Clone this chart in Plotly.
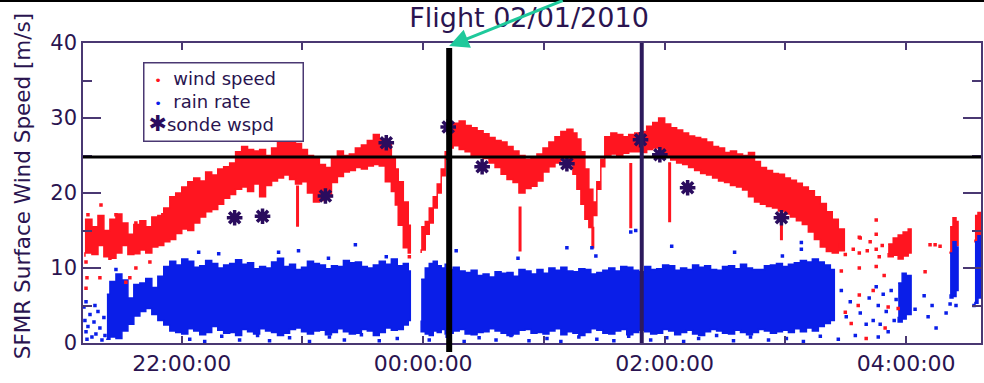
import plotly.graph_objects as go

# ---------------------------------------------------------------------------
# SFMR wind speed (m/s): envelope of the dense 1 Hz record, per flight stretch
# time in hours after 00:00 on 02/01 (values > 24 are the early hours of 02/02)
# ---------------------------------------------------------------------------
WIND_SEG = [0] * 57 + [1] * 77 + [2] * 6 + [3] * 4 + [4] * 3
WIND_T = [
    21.198, 21.256, 21.306, 21.355, 21.405, 21.455, 21.504, 21.554, 21.603, 21.653,
    21.702, 21.752, 21.802, 21.851, 21.901, 21.950, 22.000, 22.050, 22.099, 22.149,
    22.198, 22.248, 22.298, 22.347, 22.397, 22.446, 22.496, 22.545, 22.595, 22.645,
    22.694, 22.744, 22.793, 22.843, 22.893, 22.942, 22.992, 23.041, 23.091, 23.140,
    23.190, 23.240, 23.289, 23.339, 23.388, 23.438, 23.488, 23.537, 23.587, 23.636,
    23.686, 23.736, 23.769, 23.793, 23.835, 23.876, 23.893,
    23.983, 24.017, 24.050, 24.083, 24.116, 24.149, 24.182, 24.215, 24.248, 24.298,
    24.347, 24.397, 24.446, 24.496, 24.545, 24.595, 24.645, 24.694, 24.744, 24.793,
    24.843, 24.893, 24.942, 24.992, 25.041, 25.091, 25.140, 25.190, 25.240, 25.273,
    25.306, 25.339, 25.372, 25.405, 25.438, 25.471, 25.504, 25.554, 25.603, 25.653,
    25.702, 25.752, 25.802, 25.851, 25.901, 25.950, 26.000, 26.050, 26.099, 26.149,
    26.198, 26.248, 26.298, 26.347, 26.397, 26.446, 26.496, 26.545, 26.595, 26.645,
    26.694, 26.744, 26.793, 26.843, 26.893, 26.942, 26.992, 27.041, 27.091, 27.140,
    27.190, 27.240, 27.289, 27.339, 27.388, 27.438, 27.488,
    27.851, 27.893, 27.934, 27.975, 28.017, 28.041,
    28.364, 28.388, 28.413, 28.430,
    28.570, 28.595, 28.628,
]
WIND_LO = [
    11.5, 12.0, 11.8, 13.0, 11.5, 11.3, 12.0, 13.0, 11.8, 11.9,
    12.4, 12.0, 12.8, 13.0, 13.5, 13.8, 14.6, 15.2, 15.0, 16.0,
    16.8, 17.5, 17.8, 18.5, 19.3, 19.8, 20.5, 20.8, 20.2, 21.2,
    19.5, 21.0, 21.6, 22.0, 22.4, 21.8, 21.2, 21.5, 20.0, 18.8,
    19.0, 19.5, 21.4, 22.2, 22.8, 23.0, 23.4, 23.2, 23.6, 23.8,
    23.6, 21.5, 20.2, 18.4, 15.7, 12.7, 12.0,
    12.0, 12.4, 14.5, 16.0, 18.0, 20.0, 22.3, 24.5, 26.0, 26.3,
    25.8, 25.5, 25.0, 24.8, 24.6, 24.0, 23.4, 22.5, 21.8, 21.4,
    20.0, 20.6, 20.9, 21.6, 22.8, 23.5, 24.0, 24.6, 24.0, 22.5,
    20.5, 18.5, 16.5, 15.4, 17.0, 20.5, 23.5, 24.8, 25.2, 25.0,
    25.3, 25.5, 25.5, 25.4, 25.8, 26.0, 25.4, 24.8, 24.4, 24.0,
    23.8, 23.4, 23.0, 22.6, 22.4, 22.0, 21.6, 21.4, 21.0, 20.8,
    20.4, 19.5, 18.8, 18.5, 18.2, 18.0, 17.6, 17.2, 16.8, 16.3,
    15.8, 14.8, 13.8, 12.8, 12.2, 12.0, 12.3,
    12.0, 11.5, 11.7, 11.2, 11.6, 12.0,
    12.2, 12.0, 12.5, 13.0,
    13.8, 13.5, 14.0,
]
WIND_HI = [
    16.5, 15.5, 17.0, 15.0, 16.5, 17.2, 16.0, 14.5, 15.8, 16.3,
    15.5, 16.8, 17.0, 18.0, 19.5, 20.0, 20.8, 21.5, 22.0, 21.6,
    22.8, 22.4, 23.2, 23.5, 24.0, 25.5, 26.2, 25.8, 25.6, 25.8,
    25.0, 26.0, 27.2, 27.6, 27.3, 26.6, 25.8, 25.0, 24.6, 23.8,
    23.4, 24.8, 25.6, 25.0, 25.2, 26.0, 26.4, 27.0, 27.8, 27.2,
    26.8, 24.7, 23.2, 21.5, 18.8, 15.7, 13.5,
    15.5, 16.2, 18.0, 19.5, 21.2, 23.2, 25.5, 28.0, 29.3, 29.6,
    29.0, 28.7, 28.3, 27.9, 27.4, 27.0, 26.8, 26.2, 25.6, 25.0,
    24.5, 24.8, 25.2, 26.0, 26.8, 27.5, 28.2, 28.5, 28.0, 27.2,
    25.5, 23.2, 20.5, 18.8, 21.5, 24.5, 27.5, 28.0, 27.8, 27.5,
    27.8, 28.0, 28.2, 28.9, 29.4, 30.0, 29.2, 28.7, 28.4, 28.0,
    27.6, 27.4, 27.2, 26.8, 26.2, 26.0, 25.4, 25.6, 25.2, 25.0,
    25.4, 24.2, 23.4, 23.0, 22.6, 22.5, 22.0, 21.7, 21.3, 20.8,
    20.3, 19.5, 18.6, 17.5, 16.5, 15.2, 14.0,
    13.2, 14.0, 14.4, 14.8, 15.2, 14.6,
    15.5, 16.7, 16.2, 15.0,
    17.0, 17.4, 17.0,
]

# Short drop-outs of the wind record (time, lowest, highest)
DROP_T = [22.959, 24.802, 25.405, 25.719, 26.041, 26.967]
DROP_LO = [15.5, 12.2, 12.6, 15.3, 16.1, 13.7]
DROP_HI = [21.0, 18.2, 15.5, 24.0, 24.1, 17.0]

# Isolated wind-speed samples
WIND_PT_T = [
    21.207, 21.215, 21.223, 21.322, 21.331, 21.405, 21.455, 21.537, 21.570, 21.620,
    21.620, 21.736, 21.207, 21.843, 23.885,
    27.455, 27.496, 27.562, 27.612, 27.612, 27.612, 27.678, 27.463, 27.612, 27.545,
    27.669, 27.620, 27.752, 27.752, 27.752, 27.752, 27.777, 27.802, 27.818, 27.826,
    27.851, 27.934, 28.157, 28.198, 28.240, 28.281, 27.496, 27.603, 27.702, 27.727,
]
WIND_PT_V = [
    10.8, 8.7, 17.1, 8.7, 18.4, 11.3, 17.1, 8.1, 8.7, 10.0,
    16.0, 10.8, 7.3, 17.1, 11.5,
    13.0, 11.8, 12.5, 14.1, 12.0, 10.0, 12.3, 9.6, 6.4, 2.6,
    0.6, 14.0, 16.4, 14.5, 12.5, 10.2, 11.5, 13.0, 9.0, 2.0,
    4.8, 4.6, 9.5, 13.1, 13.1, 12.9, 4.1, 5.0, 13.5, 7.0,
]

# ---------------------------------------------------------------------------
# SFMR rain rate: envelope of the dense record
# ---------------------------------------------------------------------------
RAIN_SEG = [0] * 53 + [1] * 73 + [2] * 4 + [3] * 4 + [4] * 3
RAIN_T = [
    21.380, 21.405, 21.455, 21.504, 21.554, 21.603, 21.653, 21.702, 21.752, 21.802,
    21.851, 21.901, 21.950, 22.000, 22.050, 22.099, 22.149, 22.198, 22.248, 22.298,
    22.347, 22.397, 22.446, 22.496, 22.545, 22.595, 22.645, 22.694, 22.744, 22.793,
    22.843, 22.893, 22.942, 22.992, 23.041, 23.091, 23.140, 23.190, 23.240, 23.289,
    23.339, 23.388, 23.438, 23.488, 23.537, 23.587, 23.636, 23.686, 23.736, 23.785,
    23.835, 23.876, 23.893,
    23.983, 24.017, 24.050, 24.083, 24.116, 24.149, 24.182, 24.215, 24.248,
    24.298, 24.347, 24.397, 24.446, 24.496, 24.545, 24.595, 24.645, 24.694, 24.744,
    24.793, 24.843, 24.893, 24.942, 24.992, 25.041, 25.091, 25.140, 25.190, 25.240,
    25.289, 25.339, 25.388, 25.438, 25.488, 25.537, 25.587, 25.636, 25.686, 25.736,
    25.785, 25.835, 25.884, 25.934, 25.983, 26.033, 26.083, 26.132, 26.182, 26.231,
    26.281, 26.331, 26.380, 26.430, 26.479, 26.529, 26.579, 26.628, 26.678, 26.727,
    26.777, 26.826, 26.876, 26.926, 26.975, 27.025, 27.074, 27.124, 27.174, 27.223,
    27.273, 27.322, 27.372, 27.405,
    27.934, 27.967, 28.000, 28.041,
    28.364, 28.388, 28.413, 28.430,
    28.570, 28.595, 28.628,
]
RAIN_LO = [
    0.6, 0.5, 0.8, 0.6, 1.6, 2.5, 3.6, 4.2, 4.6, 3.8,
    3.0, 2.4, 1.6, 1.4, 1.2, 1.9, 1.6, 1.1, 1.4, 2.2,
    1.7, 1.3, 1.4, 1.0, 1.8, 1.5, 1.2, 1.9, 1.6, 1.4,
    1.0, 1.3, 1.8, 2.0, 1.5, 1.2, 1.6, 1.7, 1.1, 1.4,
    1.9, 1.5, 1.2, 1.3, 1.8, 1.6, 1.0, 1.4, 2.0, 1.7,
    1.8, 2.4, 3.0,
    3.0, 1.5, 1.2, 1.0, 1.6, 1.4, 1.8, 1.2, 1.3,
    1.6, 1.8, 1.2, 1.1, 1.4, 1.5, 1.9, 1.6, 1.3, 1.0,
    1.2, 1.7, 1.8, 1.3, 1.4, 1.2, 1.6, 1.9, 1.1, 1.5,
    1.3, 1.0, 1.4, 1.9, 1.7, 1.3, 1.2, 1.6, 1.8, 1.1,
    1.4, 1.7, 1.5, 1.2, 1.3, 1.8, 1.6, 1.1, 1.4, 1.7,
    1.2, 1.0, 1.5, 1.8, 1.6, 1.3, 1.2, 1.7, 1.4, 1.1,
    1.4, 1.8, 1.6, 1.3, 1.5, 1.7, 1.4, 1.9, 1.5, 2.0,
    1.6, 2.2, 2.6, 3.0,
    3.5, 2.8, 3.2, 3.8,
    6.5, 6.0, 6.2, 7.0,
    5.5, 5.3, 6.0,
]
RAIN_HI = [
    6.5, 8.2, 9.2, 8.4, 6.0, 7.8, 8.0, 8.6, 7.4, 8.9,
    10.2, 10.9, 10.4, 11.2, 10.9, 10.1, 10.3, 11.0, 10.6, 10.0,
    10.4, 10.6, 11.1, 10.5, 10.7, 9.9, 10.2, 10.0, 10.8, 11.3,
    10.2, 10.5, 9.8, 10.1, 10.9, 10.6, 10.4, 9.9, 10.3, 10.2,
    11.0, 10.7, 10.8, 10.2, 10.0, 10.4, 10.9, 10.5, 11.2, 10.3,
    10.6, 9.6, 8.5,
    8.5, 10.0, 10.6, 10.9, 10.3, 10.0, 10.5, 9.8, 10.1,
    9.6, 9.4, 9.7, 9.0, 9.2, 8.8, 9.5, 9.3, 9.4, 8.9,
    9.8, 9.6, 9.2, 9.8, 9.3, 10.0, 9.7, 10.1, 9.6, 9.5,
    9.9, 9.8, 9.2, 9.4, 9.7, 10.0, 9.6, 10.2, 10.1, 9.7,
    9.5, 10.2, 9.8, 9.9, 10.4, 10.3, 9.7, 10.0, 9.8, 10.4,
    10.1, 10.3, 9.8, 9.7, 10.2, 10.3, 9.9, 10.5, 10.0, 9.8,
    9.8, 10.3, 10.4, 10.6, 10.2, 10.5, 10.7, 11.0, 10.8, 11.2,
    10.8, 10.4, 9.8, 8.6,
    8.0, 9.3, 9.0, 8.5,
    12.0, 13.5, 12.8, 11.0,
    13.5, 14.3, 14.0,
]

# Isolated rain-rate samples
RAIN_PT_T = [
    21.190, 21.198, 21.207, 21.215, 21.223, 21.240, 21.256, 21.273, 21.289, 21.306,
    21.322, 21.339, 21.355, 21.364, 21.207, 21.281,
    22.140, 22.306, 22.802, 22.967, 23.438, 23.215, 23.694, 24.273, 24.785, 25.190,
    25.397, 25.719, 25.760, 25.430, 26.058, 26.579, 27.132, 27.132, 26.975, 21.455,
    22.066, 22.190, 22.331, 22.479, 22.628, 22.727, 22.893, 23.058, 23.223, 23.347,
    23.488, 23.636, 23.785, 24.050, 24.198, 24.339, 24.463, 24.603, 24.727, 24.876,
    25.025, 25.140, 25.289, 25.438, 25.579, 25.702, 25.884, 26.017, 26.157, 26.281,
    26.430, 26.570, 26.711, 26.860, 27.008, 27.149, 27.289, 27.438,
    27.463, 27.504, 27.537, 27.579, 27.620, 27.669, 27.694, 27.727, 27.752, 27.769,
    27.785, 27.810, 27.835, 27.851, 27.876, 27.901, 27.917, 28.074, 28.149, 28.182,
    28.215, 28.248, 28.331, 28.364, 28.413, 28.562, 27.769,
]
RAIN_PT_V = [
    4.8, 3.0, 1.5, 0.5, 2.2, 3.8, 0.8, 2.8, 1.2, 4.2,
    2.0, 0.4, 3.4, 1.0, 5.5, 5.0,
    12.1, 11.9, 12.1, 12.3, 13.1, 11.3, 11.5, 12.3, 11.3, 12.7,
    12.7, 14.8, 15.0, 11.6, 12.9, 12.1, 13.4, 12.5, 11.6, 9.8,
    0.5, 0.2, 0.9, 0.4, 1.0, 0.3, 0.7, 0.2, 0.8, 0.4,
    1.1, 0.3, 0.6, 0.4, 0.9, 0.2, 0.7, 0.4, 1.0, 0.3,
    0.6, 0.2, 0.8, 0.5, 0.3, 0.9, 0.4, 0.7, 0.2, 0.6,
    1.0, 0.3, 0.8, 0.4, 0.6, 0.2, 0.9, 0.5,
    7.0, 3.5, 5.5, 1.0, 4.0, 2.5, 6.0, 3.0, 7.5, 5.0,
    2.5, 6.5, 4.2, 1.5, 7.0, 3.0, 5.8, 4.5, 6.3, 3.5,
    5.0, 2.0, 4.0, 5.2, 5.0, 5.0, 0.8,
]

# Dropsonde surface wind speeds
SONDE_T = [22.438, 22.669, 23.190, 23.694, 24.207, 24.488, 25.190, 25.800, 25.960, 26.190, 26.967]
SONDE_V = [16.7, 16.9, 19.6, 26.7, 28.8, 23.5, 23.9, 27.1, 25.1, 20.7, 16.7]

# Reference marks: hurricane-force threshold and two event times
THRESHOLD = 24.8
EVENT_T = [24.215, 25.810]

# Axis definitions
X_RANGE = [21.182, 28.620]
X_TICKS = [22, 23, 24, 25, 26, 27, 28]
X_LABELS = ["22:00:00", "", "00:00:00", "", "02:00:00", "", "04:00:00"]
Y_TICKS = [0, 10, 20, 30, 40]

SERIES_NAMES = ["wind speed", "rain rate", "sonde wspd"]

RED = "#ff1520"
BLUE = "#0a1ee8"
SONDE = "#2a0c5e"
TEXT = "#2a1450"
AXIS = "#4a3872"
FONT = "DejaVu Sans"


def band(seg, t, lo, hi):
    """Closed polygons (upper edge out, lower edge back) for each stretch."""
    xs, ys = [], []
    order = []
    for s in seg:
        if s not in order:
            order.append(s)
    for s in order:
        idx = [i for i, v in enumerate(seg) if v == s]
        xs += [t[i] for i in idx] + [t[i] for i in reversed(idx)] + [None]
        ys += [hi[i] for i in idx] + [lo[i] for i in reversed(idx)] + [None]
    return xs, ys


def spans(t, lo, hi):
    xs, ys = [], []
    for ti, a, b in zip(t, lo, hi):
        xs += [ti, ti, None]
        ys += [a, b, None]
    return xs, ys


fig = go.Figure()

wx, wy = band(WIND_SEG, WIND_T, WIND_LO, WIND_HI)
fig.add_trace(go.Scatter(x=wx, y=wy, mode="lines", fill="toself", fillcolor=RED,
                         line=dict(color=RED, width=1.5, shape="hv"),
                         showlegend=False, hoverinfo="skip"))
dx, dy = spans(DROP_T, DROP_LO, DROP_HI)
fig.add_trace(go.Scatter(x=dx, y=dy, mode="lines", line=dict(color=RED, width=3),
                         showlegend=False, hoverinfo="skip"))

rx, ry = band(RAIN_SEG, RAIN_T, RAIN_LO, RAIN_HI)
fig.add_trace(go.Scatter(x=rx, y=ry, mode="lines", fill="toself", fillcolor=BLUE,
                         line=dict(color=BLUE, width=1.5, shape="hv"),
                         showlegend=False, hoverinfo="skip"))

fig.add_trace(go.Scatter(x=WIND_PT_T, y=WIND_PT_V, mode="markers", name=SERIES_NAMES[0],
                         showlegend=False,
                         marker=dict(symbol="square", size=3.5, color=RED, line=dict(width=0))))
fig.add_trace(go.Scatter(x=RAIN_PT_T, y=RAIN_PT_V, mode="markers", name=SERIES_NAMES[1],
                         showlegend=False,
                         marker=dict(symbol="square", size=3.5, color=BLUE, line=dict(width=0))))
fig.add_trace(go.Scatter(x=SONDE_T, y=SONDE_V, mode="markers", name=SERIES_NAMES[2],
                         showlegend=False,
                         marker=dict(symbol="asterisk-open", size=13, color=SONDE,
                                     line=dict(color=SONDE, width=3.5))))

# threshold line and event markers
fig.add_shape(type="line", xref="paper", yref="y", x0=0, x1=1, y0=THRESHOLD, y1=THRESHOLD,
              line=dict(color="black", width=3), layer="above")
fig.add_shape(type="line", xref="x", yref="paper", x0=EVENT_T[0], x1=EVENT_T[0], y0=-0.03, y1=0.983,
              line=dict(color="black", width=6), layer="above")
fig.add_shape(type="line", xref="x", yref="paper", x0=EVENT_T[1], x1=EVENT_T[1], y0=0, y1=1,
              line=dict(color="#2d1a5c", width=4), layer="above")
# frame rule along the top of the page
fig.add_shape(type="line", xref="paper", yref="paper", x0=-0.1, x1=1.01, y0=1.14, y1=1.14,
              line=dict(color="black", width=2), layer="above")

fig.add_annotation(x=EVENT_T[0], xref="x", y=0.99, yref="paper", text="", showarrow=True,
                   ax=115, ay=-54, axref="pixel", ayref="pixel", arrowcolor="#1fc99b",
                   arrowwidth=3, arrowhead=2, arrowsize=1.3, standoff=0)
fig.add_annotation(x=-0.0678, xref="paper", y=0.523, yref="paper", text="SFMR Surface Wind Speed [m/s]",
                   textangle=-90, showarrow=False, font=dict(family=FONT, size=21.5, color=TEXT),
                   xanchor="center", yanchor="middle")

# boxed key in the upper-left corner
NB = "\u00a0"
key_rows = [
    f"{NB}<span style='color:{RED};font-size:13px'>•</span>{NB}{NB}{SERIES_NAMES[0]}",
    f"{NB}<span style='color:{BLUE};font-size:13px'>•</span>{NB}{NB}{SERIES_NAMES[1]}",
    f"<span style='color:{SONDE};font-size:22px'><b>✱</b></span>{SERIES_NAMES[2]}",
]
fig.add_annotation(x=0.0667, xref="paper", y=0.937, yref="paper", xanchor="left", yanchor="top",
                   text="<br>".join(key_rows), showarrow=False, align="left",
                   width=150, borderpad=4, bordercolor=AXIS, borderwidth=1.5, bgcolor="white",
                   font=dict(family=FONT, size=18, color=TEXT))

fig.update_layout(
    width=984, height=383,
    margin=dict(l=83, r=1, t=43, b=40),
    paper_bgcolor="white", plot_bgcolor="white",
    font=dict(family=FONT, color=TEXT),
    title=dict(text="Flight 02/01/2010", x=0.4967, xref="paper", xanchor="center",
               y=0.953, yref="container", yanchor="middle",
               font=dict(family=FONT, size=27, color=TEXT)),
    showlegend=False,
    xaxis=dict(range=X_RANGE, tickmode="array", tickvals=X_TICKS, ticktext=X_LABELS,
               ticks="inside", ticklen=7, tickwidth=1.5, tickcolor=AXIS,
               showline=True, linecolor=AXIS, linewidth=1.5, mirror="ticks",
               showgrid=False, zeroline=False, tickfont=dict(family=FONT, size=22, color=TEXT)),
    yaxis=dict(range=[0, 40], tickmode="array", tickvals=Y_TICKS,
               ticks="inside", ticklen=18, tickwidth=1.5, tickcolor=AXIS,
               minor=dict(tickmode="linear", tick0=0, dtick=5, ticks="inside", ticklen=9,
                          tickwidth=1.5, tickcolor=AXIS),
               showline=True, linecolor=AXIS, linewidth=1.5, mirror="ticks",
               showgrid=False, zeroline=False, tickfont=dict(family=FONT, size=21, color=TEXT)),
)

fig.write_html("out.html")
